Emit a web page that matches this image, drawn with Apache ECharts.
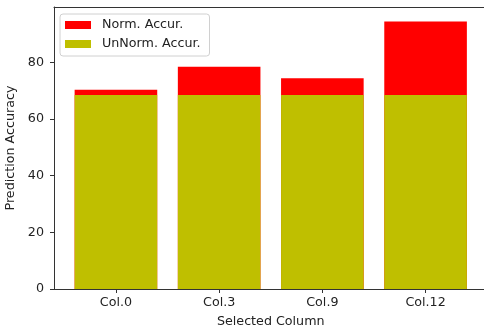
<!DOCTYPE html>
<html>
<head>
<meta charset="utf-8">
<script src="https://cdn.jsdelivr.net/npm/echarts@6/dist/echarts.min.js"></script>
<style>
  html, body { margin: 0; padding: 0; background: #fff; }
  #chart { width: 484px; height: 330px; }
</style>
</head>
<body>
<div id="chart"></div>
<script>
// Prediction accuracy per selected column, with and without normalisation
const categories = ['Col.0', 'Col.3', 'Col.9', 'Col.12'];
const normAccuracy = [70.4, 78.5, 74.4, 94.5];
const unnormAccuracy = [68.5, 68.5, 68.5, 68.5];
const yTicks = [0, 20, 40, 60, 80];

const positions = categories.map((_, i) => i);
const FONT = 'DejaVu Sans';
const FS = 12.7;
const axisColor = '#333';
const textColor = '#222';

const chart = echarts.init(document.getElementById('chart'), null, { renderer: 'canvas' });

chart.setOption({
  animation: false,
  grid: { left: 54, top: 7, bottom: 41, right: -3.5, containLabel: false, outerBoundsMode: 'none' },
  xAxis: [
    {
      type: 'value',
      min: -0.6,
      max: 3.6,
      name: 'Selected Column',
      nameLocation: 'middle',
      nameGap: 26,
      nameTextStyle: { fontFamily: FONT, fontSize: FS, color: textColor },
      axisLine: { show: true, onZero: false, lineStyle: { color: axisColor, width: 1 } },
      axisTick: { show: true, length: 4, lineStyle: { color: axisColor }, customValues: positions },
      axisLabel: {
        customValues: positions,
        formatter: v => categories[Math.round(v)] || '',
        fontFamily: FONT, fontSize: FS, color: textColor, margin: 7
      },
      splitLine: { show: false }
    },
    {
      type: 'value',
      position: 'top',
      min: -0.6,
      max: 3.6,
      axisLine: { show: true, onZero: false, lineStyle: { color: axisColor, width: 1 } },
      axisTick: { show: false },
      axisLabel: { show: false },
      splitLine: { show: false }
    }
  ],
  yAxis: {
    type: 'value',
    min: 0,
    max: 99.6,
    name: 'Prediction Accuracy',
    nameLocation: 'middle',
    nameGap: 34,
    nameTextStyle: { fontFamily: FONT, fontSize: FS, color: textColor },
    axisLine: { show: true, onZero: false, lineStyle: { color: axisColor, width: 1 } },
    axisTick: { show: true, length: 4, lineStyle: { color: axisColor }, customValues: yTicks },
    axisLabel: { customValues: yTicks, fontFamily: FONT, fontSize: FS, color: textColor, margin: 10 },
    splitLine: { show: false }
  },
  legend: {
    data: ['Norm. Accur.', 'UnNorm. Accur.'],
    orient: 'vertical',
    left: 60,
    top: 14,
    itemWidth: 26,
    itemHeight: 8,
    itemGap: 5,
    padding: [4, 9, 5, 5],
    backgroundColor: 'rgba(255,255,255,0.8)',
    borderColor: '#d0d0d0',
    borderWidth: 1,
    borderRadius: 3,
    icon: 'rect',
    textStyle: { fontFamily: FONT, fontSize: FS, color: textColor, lineHeight: 14, padding: [0, 0, 0, 6] }
  },
  series: [
    {
      name: 'Norm. Accur.',
      type: 'bar',
      xAxisIndex: 0,
      barWidth: 82.6,
      barGap: '-100%',
      itemStyle: { color: '#ff0000' },
      data: positions.map(i => [i, normAccuracy[i]])
    },
    {
      name: 'UnNorm. Accur.',
      type: 'bar',
      xAxisIndex: 0,
      barWidth: 82.6,
      barGap: '-100%',
      itemStyle: { color: '#bfbf00' },
      data: positions.map(i => [i, unnormAccuracy[i]])
    }
  ]
});
</script>
</body>
</html>
